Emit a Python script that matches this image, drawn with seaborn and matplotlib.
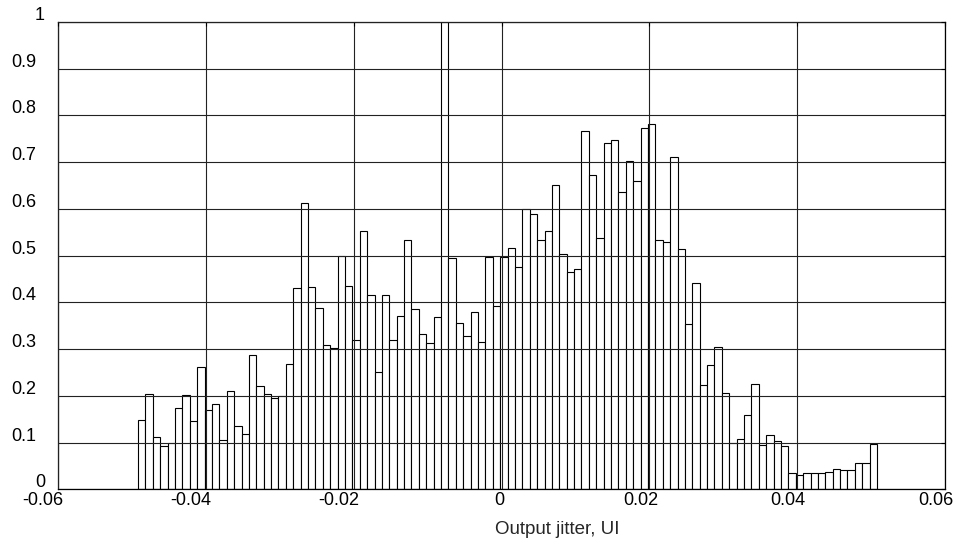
import numpy as np
import pandas as pd
import seaborn as sns
from matplotlib import pyplot as plt
from matplotlib.transforms import ScaledTranslation

# bar heights (100 bins, left to right)
heights = [
    0.149, 0.205, 0.112, 0.093, 0.099, 0.175, 0.201, 0.146, 0.261, 0.169,
    0.182, 0.106, 0.211, 0.136, 0.119, 0.288, 0.221, 0.205, 0.195, 0.199,
    0.268, 0.430, 0.613, 0.432, 0.389, 0.308, 0.303, 0.500, 0.435, 0.320,
    0.553, 0.415, 0.251, 0.415, 0.320, 0.370, 0.533, 0.386, 0.333, 0.314,
    0.369, 1.300, 0.494, 0.356, 0.327, 0.380, 0.316, 0.497, 0.393, 0.497,
    0.517, 0.475, 0.599, 0.590, 0.534, 0.553, 0.652, 0.504, 0.464, 0.472,
    0.767, 0.672, 0.537, 0.741, 0.748, 0.636, 0.702, 0.660, 0.774, 0.781,
    0.534, 0.530, 0.711, 0.514, 0.353, 0.442, 0.224, 0.266, 0.304, 0.206,
    0.099, 0.107, 0.160, 0.225, 0.094, 0.117, 0.103, 0.093, 0.034, 0.031,
    0.035, 0.035, 0.035, 0.038, 0.044, 0.041, 0.041, 0.057, 0.057, 0.097,
]
bin_range = (-0.0492, 0.0508)
x_ticks = [-0.06, -0.04, -0.02, 0, 0.02, 0.04, 0.06]
y_ticks = [0, 0.1, 0.2, 0.3, 0.4, 0.5, 0.6, 0.7, 0.8, 0.9, 1]
x_label = 'Output jitter, UI'

n_bins = len(heights)
width = (bin_range[1] - bin_range[0]) / n_bins
df = pd.DataFrame({
    'jitter': bin_range[0] + (np.arange(n_bins) + 0.5) * width,
    'value': heights,
})

sns.set_style('white')
plt.rcParams['font.family'] = ['Liberation Sans', 'DejaVu Sans']
plt.rcParams['axes.unicode_minus'] = False

fig = plt.figure(figsize=(9.6, 5.45), dpi=100)
ax = fig.add_axes([0.0607, 0.1022, 0.9237, 0.8574])

sns.histplot(data=df, x='jitter', weights='value', bins=n_bins, binrange=bin_range,
             color='white', edgecolor='black', linewidth=0.8, alpha=1, ax=ax)

ax.set_xlim(-0.06, 0.06)
ax.set_ylim(0, 1)
ax.set_xticks(x_ticks, labels=['%g' % t for t in x_ticks])
ax.set_yticks(y_ticks, labels=['%g' % t for t in y_ticks])
ax.set_axisbelow(False)
ax.grid(True, color='#222222', linewidth=0.8)
for s in ax.spines.values():
    s.set_visible(True)
    s.set_color('black')
    s.set_linewidth(0.9)

ax.tick_params(direction='in', length=3, width=0.8, labelsize=13, colors='black',
               top=True, right=True)
ax.tick_params(axis='x', pad=2)
ax.tick_params(axis='y', pad=16)
plt.setp(ax.get_yticklabels(), va='baseline')

# the reference labels sit a little off their ticks; nudge them (pixels)
for lab in ax.get_xticklabels():
    txt = lab.get_text()
    dx = -15 if txt.startswith('-') else (-2 if txt == '0' else -9)
    lab.set_transform(lab.get_transform() + ScaledTranslation(dx / 100, 0, fig.dpi_scale_trans))
for lab in ax.get_yticklabels():
    dx = 9 if len(lab.get_text()) == 1 else 0
    lab.set_transform(lab.get_transform() + ScaledTranslation(dx / 100, 2 / 100, fig.dpi_scale_trans))

ax.set_ylabel('')
ax.set_xlabel(x_label, fontsize=13.5, va='center')
ax.xaxis.set_label_coords(0.563, -0.085)

fig.savefig('out.png', dpi=100)
